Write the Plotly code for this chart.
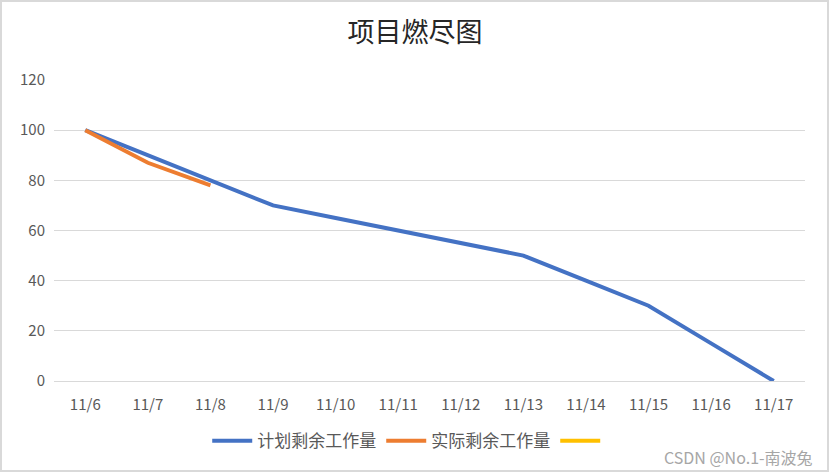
import plotly.graph_objects as go

days = ['11/6', '11/7', '11/8', '11/9', '11/10', '11/11',
        '11/12', '11/13', '11/14', '11/15', '11/16', '11/17']
planned = [100, 90, 80, 70, 65, 60, 55, 50, 40, 30, 15, 0]
actual_days = ['11/6', '11/7', '11/8']
actual = [100, 87, 78]

fig = go.Figure()
fig.add_trace(go.Scatter(x=days, y=planned, mode='lines', name='计划剩余工作量',
                         line=dict(color='#4472C4', width=4)))
fig.add_trace(go.Scatter(x=actual_days, y=actual, mode='lines', name='实际剩余工作量',
                         line=dict(color='#ED7D31', width=4)))
# third series has no name and no data, only shows up in the legend
fig.add_trace(go.Scatter(x=[None], y=[None], mode='lines', name=' ',
                         line=dict(color='#FFC000', width=4)))

fig.update_layout(
    width=830, height=473,
    margin=dict(l=54, r=25, t=80, b=92),
    paper_bgcolor='white', plot_bgcolor='white',
    font=dict(family='Noto Sans CJK SC, sans-serif', color='#595959', size=15),
    title=dict(text='项目燃尽图', x=0.5, xanchor='center', y=0.932, yanchor='middle',
               font=dict(family='Noto Sans CJK SC, serif', size=27, color='#262626')),
    xaxis=dict(type='category', categoryorder='array', categoryarray=days,
               range=[-0.5, 11.5], showgrid=False, showline=True, linecolor='#d9d9d9',
               linewidth=1, ticks='', ticklabelstandoff=10,
               tickfont=dict(size=15, color='#595959')),
    yaxis=dict(range=[0, 120], dtick=20, showgrid=True, gridcolor='#d9d9d9', gridwidth=1,
               zeroline=False, ticks='', ticklabelstandoff=8,
               tickfont=dict(size=15, color='#595959')),
    legend=dict(orientation='h', x=0.475, xanchor='center', y=-0.2, yanchor='middle',
                font=dict(size=17, color='#595959'), itemwidth=40, tracegroupgap=0),
    showlegend=True,
)

fig.add_shape(type='rect', xref='paper', yref='paper', x0=-0.0706, x1=1.0306, y0=-0.299, y1=1.2625,
              line=dict(color='#d9d9d9', width=2), fillcolor='rgba(0,0,0,0)', layer='below')

fig.add_annotation(text='CSDN @No.1-南波兔', xref='paper', yref='paper', x=1.0133, y=-0.206,
                   xanchor='right', yanchor='top', showarrow=False,
                   font=dict(size=16, color='#a6a6a6', family='Noto Sans CJK SC, sans-serif'))

fig.write_html('out.html', config={'displayModeBar': False},
               post_script="document.body.style.margin='0';")
